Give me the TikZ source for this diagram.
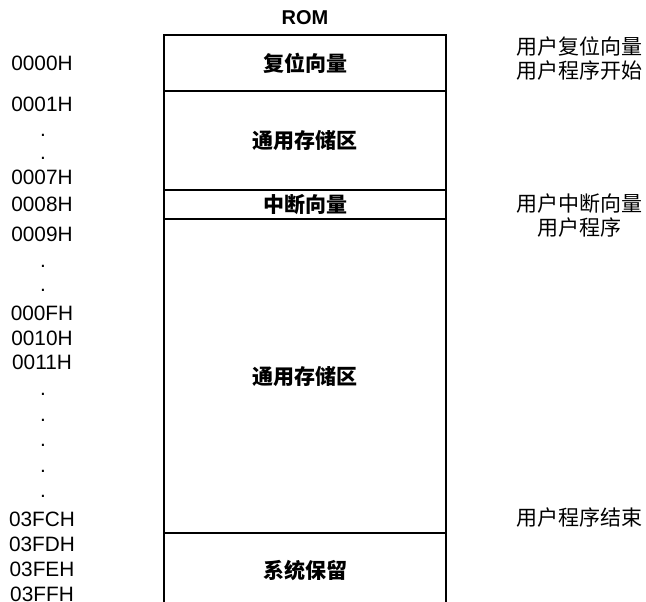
\documentclass[tikz,border=0pt]{standalone}
\usepackage{fontspec}
\setmainfont{Liberation Sans}
\newfontfamily\cjk{Noto Sans CJK SC}
\usetikzlibrary{positioning}

\begin{document}
\begin{tikzpicture}[x=0.5pt,y=-0.5pt]
    \tikzstyle{seg}=[draw=black, line width=0.8pt, rectangle, minimum width=141pt, inner sep=0pt, outer sep=0pt, font=\cjk\bfseries\fontsize{10.5}{12}\selectfont]
    \tikzstyle{addr}=[inner sep=0pt, font=\fontsize{10.4}{12}\selectfont]
    \tikzstyle{note}=[inner sep=0pt, align=center, font=\cjk\fontsize{10.5}{12}\selectfont]

    \clip (0,0) rectangle (646,601);

    \node[seg, minimum height=28pt]               (rst)  at (305,63) {复位向量};
    \node[seg, minimum height=49.5pt, below=0pt of rst]  (gen1) {通用存储区};
    \node[seg, minimum height=14.5pt, below=0pt of gen1] (irq)  {中断向量};
    \node[seg, minimum height=157pt,  below=0pt of irq]  (gen2) {通用存储区};
    \node[seg, minimum height=37pt,   below=0pt of gen2] (sys)  {系统保留};
    \node[inner sep=0pt, font=\bfseries\fontsize{10}{12}\selectfont, above=5pt of rst] (rom) {ROM};

    % addresses
    \foreach \y/\t in {63/0000H,104/0001H,177/0007H,204/0008H,234/0009H,313/000FH,
                       338/0010H,362/0011H,519/03FCH,544/03FDH,569/03FEH,594/03FFH}
      \node[addr] (a\t) at (42,\y) {\t};
    \foreach \y [count=\i] in {135,158,266,290,394,420,445,471,496}
      \node[addr] (dot\i) at (43,\y) {.};

    \node[note] (rstnote) at (579,59)  {用户复位向量\\用户程序开始};
    \node[note] (irqnote) at (579,216) {用户中断向量\\用户程序};
    \node[note] (endnote) at (579,518) {用户程序结束};
\end{tikzpicture}
\end{document}
